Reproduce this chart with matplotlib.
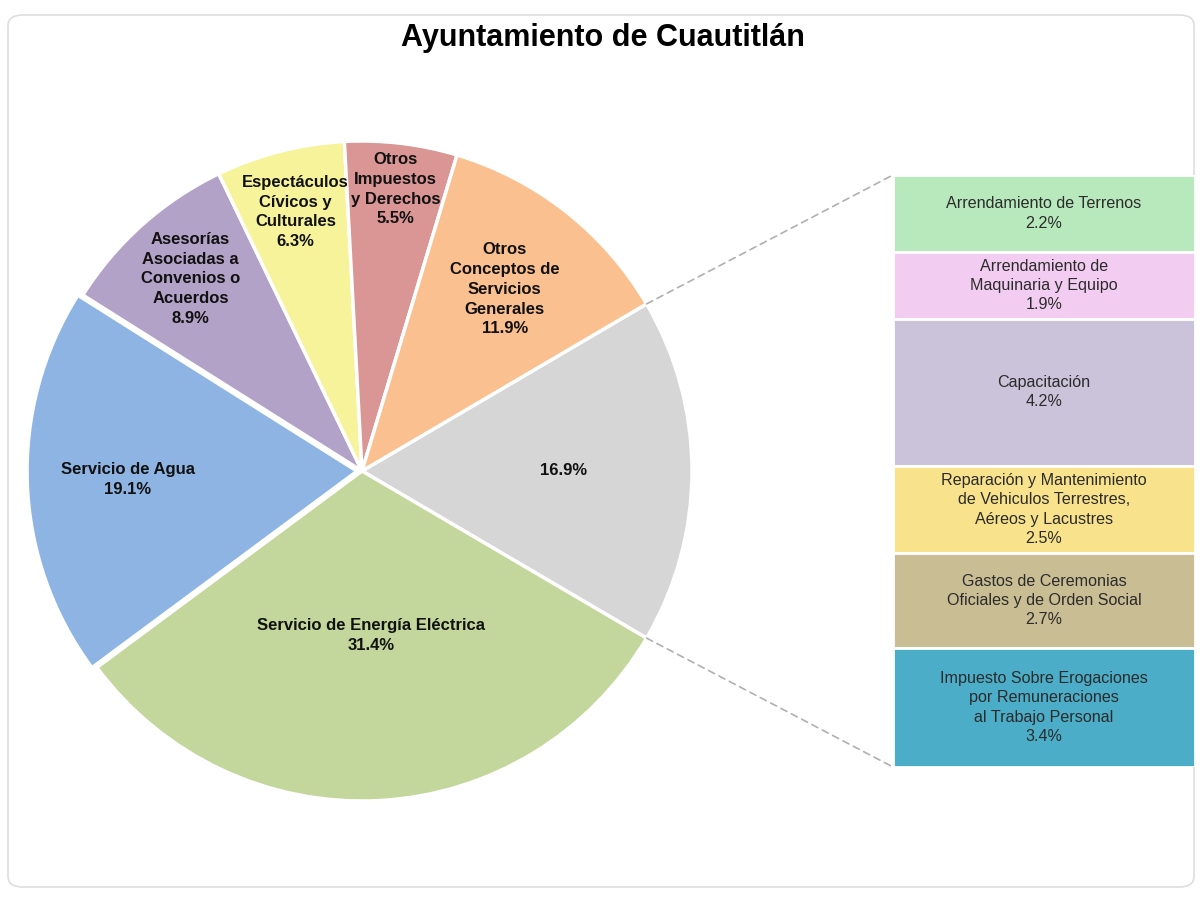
import numpy as np
import matplotlib
matplotlib.use("Agg")
import matplotlib.pyplot as plt
from matplotlib.patches import ConnectionPatch, FancyBboxPatch
from matplotlib import font_manager

# datos del gráfico principal (sentido horario desde la porción "otros")
pie_labels = ["", "Servicio de Energía Eléctrica", "Servicio de Agua",
              "Asesorías\nAsociadas a\nConvenios o\nAcuerdos",
              "Espectáculos\nCívicos y\nCulturales",
              "Otros\nImpuestos\ny Derechos",
              "Otros\nConceptos de\nServicios\nGenerales"]
pie_values = [16.9, 31.4, 19.1, 8.9, 6.3, 5.5, 11.9]
pie_colors = ["#d6d6d6", "#c3d69b", "#8eb4e3", "#b3a2c7", "#f6f39b", "#d99694", "#fac090"]

# desglose de la porción "otros" (de arriba hacia abajo)
bar_labels = ["Arrendamiento de Terrenos",
              "Arrendamiento de\nMaquinaria y Equipo",
              "Capacitación",
              "Reparación y Mantenimiento\nde Vehiculos Terrestres,\nAéreos y Lacustres",
              "Gastos de Ceremonias\nOficiales y de Orden Social",
              "Impuesto Sobre Erogaciones\npor Remuneraciones\nal Trabajo Personal"]
bar_values = [2.2, 1.9, 4.2, 2.5, 2.7, 3.4]
bar_colors = ["#b8e9bc", "#f3cdf1", "#cbc3da", "#f8e38c", "#c9bd93", "#4badc7"]

available = {f.name for f in font_manager.fontManager.ttflist}
narrow = "Liberation Sans Narrow" in available
fam = ["Liberation Sans Narrow", "Liberation Sans", "DejaVu Sans"] if narrow else ["Liberation Sans", "DejaVu Sans"]
pie_fs = 14.5 if narrow else 12
bar_fs = 14 if narrow else 11.6

W, H = 1202, 901
fig = plt.figure(figsize=(W / 100, H / 100), dpi=100)

# marco del área del gráfico
frame = FancyBboxPatch((8 / W, 14 / H), 1186 / W, 872 / H, boxstyle="round,pad=0,rounding_size=0.012",
                       transform=fig.transFigure, facecolor="none", edgecolor="#dedede", lw=1.2,
                       zorder=-1)
fig.patches.append(frame)

fig.text(603 / W, 1 - 38 / H, "Ayuntamiento de Cuautitlán", ha="center", va="center",
         fontsize=22, fontweight="bold", family=["Liberation Sans", "DejaVu Sans"])

# ejes del pastel
cx, cy, r = 362, 471, 330
lim = 1.06
half = r * lim
ax = fig.add_axes([(cx - half) / W, (H - cy - half) / H, 2 * half / W, 2 * half / H])
start = pie_values[0] / 100 * 360 / 2
explode = [0, 0, 0.015, 0, 0, 0, 0]
wedges, _ = ax.pie(pie_values, colors=pie_colors, startangle=start, counterclock=False,
                   explode=explode, radius=1,
                   wedgeprops=dict(edgecolor="white", linewidth=2.5))
ax.set_xlim(-lim, lim)
ax.set_ylim(-lim, lim)
ax.set_aspect("equal")
ax.axis("off")

label_r = [0.61, 0.50, 0.71, 0.78, 0.81, 0.86, 0.70]
for w, lab, v, lr in zip(wedges, pie_labels, pie_values, label_r):
    mid = np.deg2rad((w.theta1 + w.theta2) / 2)
    txt = f"{lab}\n{v:.1f}%" if lab else f"{v:.1f}%"
    ax.text(lr * np.cos(mid), lr * np.sin(mid), txt, ha="center", va="center",
            fontsize=pie_fs, fontweight="bold", family=fam, linespacing=1.4, color="#111111")

# ejes de la barra
bx0, bx1, by0, by1 = 893, 1195, 175, 767
ax2 = fig.add_axes([bx0 / W, (H - by1) / H, (bx1 - bx0) / W, (by1 - by0) / H])
bottoms = np.concatenate([[0], np.cumsum(bar_values)[:-1]])
ax2.bar(0, bar_values, bottom=bottoms, width=1, color=bar_colors, edgecolor="white", linewidth=2)
for b, v, lab in zip(bottoms, bar_values, bar_labels):
    ax2.text(0, b + v / 2, f"{lab}\n{v:.1f}%", ha="center", va="center", fontsize=bar_fs,
             family=fam, linespacing=1.35, color="#2b2b2b")
total = sum(bar_values)
ax2.set_xlim(-0.5, 0.5)
ax2.set_ylim(total, 0)
ax2.axis("off")

# líneas de unión
t1 = np.deg2rad(wedges[0].theta1)
t2 = np.deg2rad(wedges[0].theta2)
for t, yb in [(t2, 0), (t1, total)]:
    con = ConnectionPatch(xyA=(np.cos(t), np.sin(t)), coordsA=ax.transData,
                          xyB=(-0.5, yb), coordsB=ax2.transData,
                          color="#b0b0b0", linestyle=(0, (4, 3)), linewidth=1.2)
    fig.add_artist(con)

fig.savefig("out.png", dpi=100)
